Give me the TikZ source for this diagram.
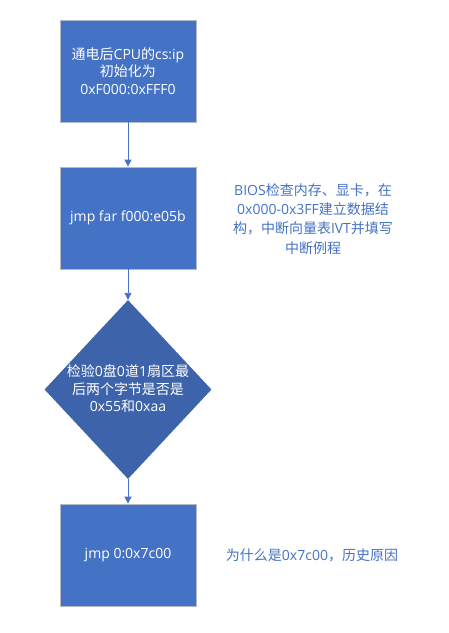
\documentclass[tikz,border=0pt]{standalone}
\usepackage{fontspec}
\setmainfont{Open Sans}
\newfontfamily\cjk{Noto Sans CJK SC}
\usetikzlibrary{shapes.geometric,arrows.meta}
\definecolor{boxblue}{HTML}{4472C4}
\definecolor{diablue}{HTML}{3D64AA}
\definecolor{boxedge}{HTML}{B4B9C4}
\newcommand{\zh}[1]{{\cjk #1}}
\begin{document}
\begin{tikzpicture}[x=1pt,y=-1pt,
  stepbox/.style={rectangle,fill=boxblue,draw=boxedge,line width=0.8pt,minimum width=136pt,minimum height=102pt,inner sep=0pt,text=white,align=center,font=\fontsize{14}{17.5}\selectfont},
  diabox/.style={diamond,fill=diablue,inner sep=0pt,minimum width=167pt,minimum height=179pt},
  diatext/.style={text=white,align=center,font=\fontsize{14}{17.5}\selectfont,inner sep=0pt},
  note/.style={text=boxblue,align=center,font=\fontsize{14}{19.3}\selectfont,inner sep=0pt},
  flow/.style={draw=boxblue,line width=0.9pt,-{Triangle[width=7pt,length=7pt]}}]
\useasboundingbox (0,0) rectangle (449,633);
\node[stepbox] (b1) at (128,71) {\zh{通电后}CPU\zh{的}cs:ip\\\zh{初始化为}\\0xF000:0xFFF0};
\node[stepbox] (b2) at (128,218) {jmp far f000:e05b};
\node[diabox] (d) at (128,389.5) {};
\node[diatext] (dt) at (128,389) {\zh{检验}0\zh{盘}0\zh{道}1\zh{扇区最}\\\zh{后两个字节是否是}\\0x55\zh{和}0xaa};
\node[stepbox] (b3) at (128,555) {jmp 0:0x7c00};
\node[note] (n1) at (313,219) {BIOS\zh{检查内存、显卡，在}\\0x000-0x3FF\zh{建立数据结}\\\zh{构，中断向量表}IVT\zh{并填写}\\\zh{中断例程}};
\node[note] (n2) at (312,555) {\zh{为什么是}0x7c00\zh{，历史原因}};
\draw[flow] (b1) -- (b2);
\draw[flow] (b2) -- (d);
\draw[flow] (d) -- (b3);
\end{tikzpicture}
\end{document}
